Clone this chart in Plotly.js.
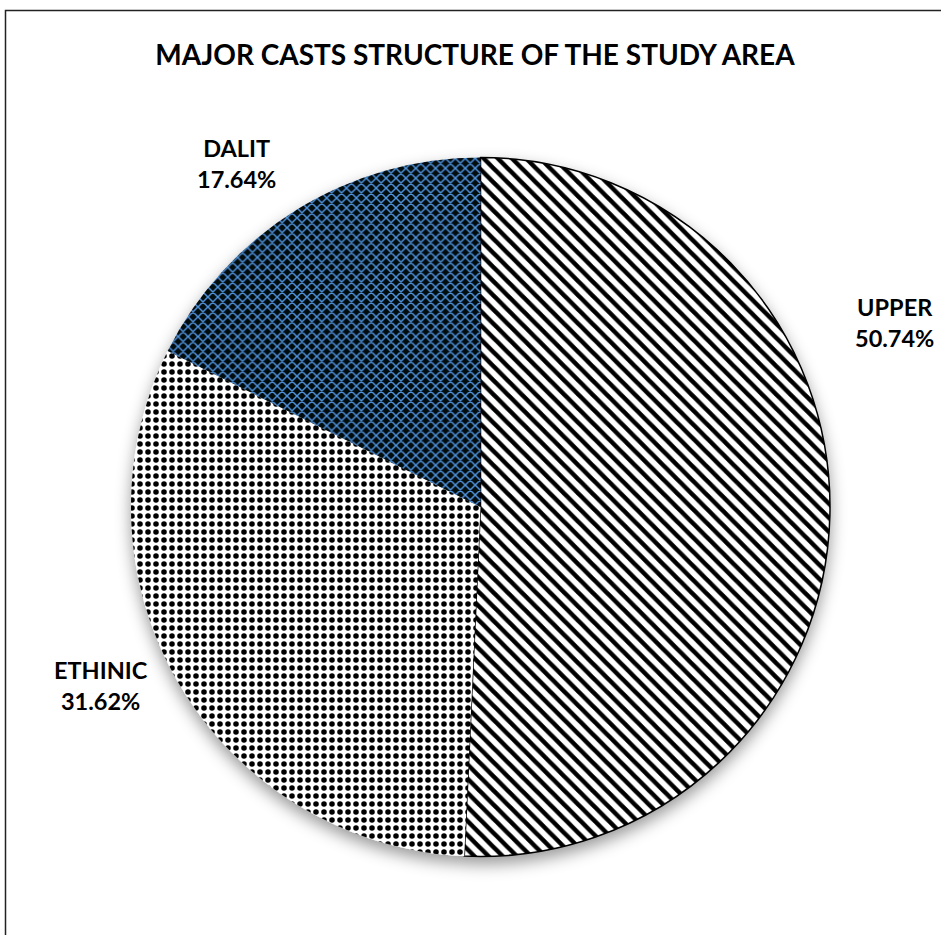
<!DOCTYPE html>
<html>
<head>
<meta charset="utf-8">
<script src="https://cdn.plot.ly/plotly-3.0.1.min.js"></script>
<style>
  html, body { margin: 0; padding: 0; background: #fff; }
  #chart { width: 941px; height: 935px; }
</style>
</head>
<body>
<div id="chart"></div>
<script>
// ---- data ----
const chartTitle = 'MAJOR CASTS STRUCTURE OF THE STUDY AREA';
const categories = ['UPPER', 'ETHINIC', 'DALIT'];
const percents = [50.74, 31.62, 17.64];

// ---- styling ----
const FONT = 'Lato, "Open Sans", "Liberation Sans", Arial, sans-serif';
const patternShapes = ['\\', '.', 'x'];
const patternFg = ['#000000', '#000000', '#4f95dc'];
const patternBg = ['#ffffff', '#ffffff', '#03070d'];
const patternSize = [10, 8, 7];
const patternSolidity = [0.45, 0.38, 0.38];
const labelPos = [
  { x: 894 / 941, y: 1 - 322 / 935 },
  { x: 101 / 941, y: 1 - 685 / 935 },
  { x: 236 / 941, y: 1 - 163 / 935 }
];

const trace = {
  type: 'pie',
  labels: categories,
  values: percents,
  sort: false,
  direction: 'clockwise',
  rotation: 0,
  textinfo: 'none',
  textposition: 'none',
  hoverinfo: 'label+percent',
  showlegend: false,
  domain: { x: [131 / 941, 830 / 941], y: [1 - 857 / 935, 1 - 157 / 935] },
  marker: {
    colors: patternBg,
    line: { color: ['#000000', 'rgba(0,0,0,0)', 'rgba(0,0,0,0)'], width: [1.5, 0, 0] },
    pattern: {
      shape: patternShapes,
      fgcolor: patternFg,
      bgcolor: patternBg,
      size: patternSize,
      solidity: patternSolidity,
      fillmode: 'replace'
    }
  }
};

const annotations = categories.map((c, i) => ({
  xref: 'paper', yref: 'paper',
  x: labelPos[i].x, y: labelPos[i].y,
  xanchor: 'center', yanchor: 'middle',
  showarrow: false,
  align: 'center',
  text: '<b>' + c + '</b><br><b>' + percents[i].toFixed(2) + '%</b>',
  font: { family: FONT, size: 23.5, color: '#000' }
}));

const layout = {
  width: 941, height: 935,
  autosize: false,
  margin: { l: 0, r: 0, t: 0, b: 0 },
  paper_bgcolor: '#ffffff',
  plot_bgcolor: '#ffffff',
  title: {
    text: '<b>' + chartTitle + '</b>',
    x: 475 / 941, xanchor: 'center',
    y: 1 - 55 / 935, yanchor: 'middle',
    font: { family: FONT, size: 28, color: '#000' }
  },
  annotations: annotations,
  shapes: [{
    type: 'rect', xref: 'paper', yref: 'paper',
    x0: 5.5 / 941, x1: 1.2, y0: -0.2, y1: 1 - 10.5 / 935,
    line: { color: '#222', width: 1.5 },
    fillcolor: 'rgba(0,0,0,0)'
  }]
};

Plotly.newPlot('chart', [trace], layout, { staticPlot: true }).then(gd => {
  const svg = gd.querySelector('.main-svg');
  const ns = 'http://www.w3.org/2000/svg';
  let defs = svg.querySelector('defs');
  if (!defs) { defs = document.createElementNS(ns, 'defs'); svg.insertBefore(defs, svg.firstChild); }
  const f = document.createElementNS(ns, 'filter');
  f.setAttribute('id', 'pieShadow');
  f.setAttribute('x', '-20%'); f.setAttribute('y', '-20%');
  f.setAttribute('width', '140%'); f.setAttribute('height', '140%');
  const ds = document.createElementNS(ns, 'feDropShadow');
  ds.setAttribute('dx', '0'); ds.setAttribute('dy', '7');
  ds.setAttribute('stdDeviation', '8');
  ds.setAttribute('flood-color', '#000');
  ds.setAttribute('flood-opacity', '0.4');
  f.appendChild(ds);
  defs.appendChild(f);
  const pl = gd.querySelector('.pielayer');
  if (pl) pl.setAttribute('filter', 'url(#pieShadow)');
});
</script>
</body>
</html>
